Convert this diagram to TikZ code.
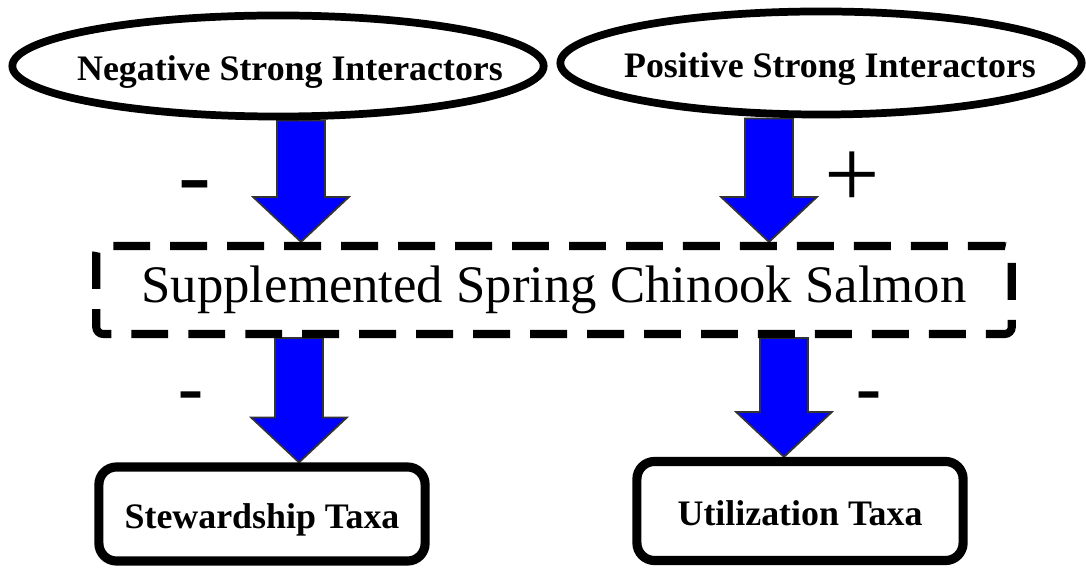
\documentclass[tikz,border=0pt]{standalone}
\usepackage{fontspec}
\setmainfont{Liberation Serif}
\newfontfamily\signfont{Liberation Sans}
\usetikzlibrary{shapes.geometric}
\usetikzlibrary{calc}
\usetikzlibrary{backgrounds}

\definecolor{arrowblue}{RGB}{0,0,255}

\tikzset{
  oval/.style={ellipse, draw, line width=2.2pt, inner sep=0pt,
    text height=8.5pt, text depth=0pt,
    font=\fontsize{10.2}{12}\selectfont\bfseries},
  taxabox/.style={draw, line width=2.6pt, rounded corners=5pt, inner sep=0pt,
    text height=8.5pt, text depth=0pt,
    minimum width=3.26cm, font=\fontsize{10.2}{12}\selectfont\bfseries},
  signbig/.style={anchor=base, inner sep=0pt, font=\fontsize{28}{30}\selectfont},
  signsmall/.style={anchor=base, inner sep=0pt, font=\signfont\fontsize{23}{26}\selectfont},
  fatarrow/.style={fill=arrowblue, draw=black!80, line width=0.5pt,
    to path={($(\tikztostart)+(-24,0)$) -- ($(\tikztostart)+(24,0)$)
      -- ($(\tikztotarget)+(24,45)$) -- ($(\tikztotarget)+(48,45)$)
      -- (\tikztotarget) -- ($(\tikztotarget)+(-48,45)$)
      -- ($(\tikztotarget)+(-24,45)$) -- cycle}}
}

\begin{document}
\begin{tikzpicture}[x=0.01cm, y=0.01cm]
		\useasboundingbox (0,0) rectangle (1086,567);
		% interactors
		\node[oval, minimum width=5.31cm, minimum height=1.01cm] (neg) at (278,501)
			{\makebox[0pt]{\hspace{0.24cm}Negative Strong Interactors}};
		\node[oval, minimum width=5.21cm, minimum height=1.03cm] (pos) at (821,504)
			{\makebox[0pt]{\hspace{0.18cm}Positive Strong Interactors}};
		% salmon
		\node[draw, line width=2.3pt, dash pattern=on 10.5pt off 5.7pt, rounded corners=2pt,
			minimum width=9.15cm, minimum height=0.88cm, inner sep=0pt,
			font=\fontsize{15}{18}\selectfont] (salmon) at (554,277)
			{Supplemented Spring Chinook Salmon};
		% taxa
		\node[taxabox, minimum height=0.94cm] (stew) at (262,53) {Stewardship Taxa};
		\node[taxabox, minimum height=0.99cm] (util) at (800,56) {Utilization Taxa};
		% arrows
		\coordinate (colA) at (301,0);
		\coordinate (colB) at (769,0);
		\coordinate (colC) at (299,0);
		\coordinate (colD) at (784,0);
		\begin{scope}[on background layer]
			\draw[fatarrow] (neg.south -| colA) to (salmon.north -| colA);
			\draw[fatarrow] (pos.south -| colB) to (salmon.north -| colB);
			\draw[fatarrow] (salmon.south -| colC) to (stew.north -| colC);
			\draw[fatarrow] (salmon.south -| colD) to (util.north -| colD);
		\end{scope}
		% signs
		\node[signbig] (negsign) at (195,359) {-};
		\node[signbig] (possign) at (852,359) {+};
		\node[signsmall] (stewsign) at (191,150) {-};
		\node[signsmall] (utilsign) at (869,150) {-};
\end{tikzpicture}
\end{document}
